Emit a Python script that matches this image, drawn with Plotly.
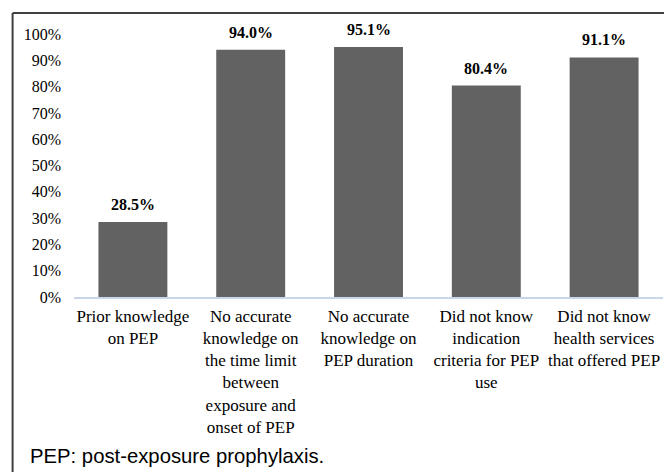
import plotly.graph_objects as go

categories = [
    "Prior knowledge<br>on PEP",
    "No accurate<br>knowledge on<br>the time limit<br>between<br>exposure and<br>onset of PEP",
    "No accurate<br>knowledge on<br>PEP duration",
    "Did not know<br>indication<br>criteria for PEP<br>use",
    "Did not know<br>health services<br>that offered PEP",
]
values = [28.5, 94.0, 95.1, 80.4, 91.1]
tick_vals = [0, 10, 20, 30, 40, 50, 60, 70, 80, 90, 100]
tick_text = [f"{v}%" for v in tick_vals]
footnote = "PEP: post-exposure prophylaxis."

serif = "Liberation Serif, Times New Roman, serif"

fig = go.Figure()
fig.add_trace(go.Bar(
    x=categories,
    y=values,
    marker=dict(color="#626262", line=dict(width=0)),
    hoverinfo="skip",
))

for c, v in zip(categories, values):
    fig.add_annotation(
        x=c, y=v, text=f"<b>{v:.1f}%</b>", showarrow=False,
        yanchor="bottom", yshift=7,
        font=dict(family=serif, size=16, color="#000000"),
    )

# page is offset by the 8px body margin
OFF = 8
W, H = 672, 472
ml, mr, mt = 73.5 - OFF, 16.5, 34 - OFF
plot_bottom = 297 - OFF
mb = H - plot_bottom
pw, ph = W - ml - mr, H - mt - mb

def px_to_paper_x(px):
    return (px - OFF - ml) / pw

def px_to_paper_y(py):
    return (plot_bottom - (py - OFF)) / ph

# outer frame
fig.add_shape(type="line", xref="paper", yref="paper",
              x0=px_to_paper_x(12), x1=px_to_paper_x(720),
              y0=px_to_paper_y(13), y1=px_to_paper_y(13),
              line=dict(color="#404040", width=2))
fig.add_shape(type="line", xref="paper", yref="paper",
              x0=px_to_paper_x(12), x1=px_to_paper_x(12),
              y0=px_to_paper_y(13), y1=px_to_paper_y(520),
              line=dict(color="#404040", width=2))

fig.add_annotation(
    xref="paper", yref="paper",
    x=px_to_paper_x(27), y=px_to_paper_y(456),
    xanchor="left", yanchor="middle", showarrow=False,
    text=footnote,
    font=dict(family="Liberation Sans, Arial, sans-serif", size=20.3, color="#000000"),
)

fig.update_layout(
    width=W, height=H,
    margin=dict(l=ml, r=mr, t=mt, b=mb, pad=0),
    paper_bgcolor="white", plot_bgcolor="white",
    bargap=0.415,
    showlegend=False,
    font=dict(family=serif, color="#000000"),
)
fig.update_xaxes(
    showline=True, linecolor="#c9d5e8", linewidth=1.5,
    showgrid=False, ticks="",
    tickangle=0, ticklabelstandoff=3,
    tickfont=dict(family=serif, size=17, color="#000000"),
)
fig.update_yaxes(
    range=[0, 100], tickvals=tick_vals, ticktext=tick_text,
    showgrid=False, showline=False, zeroline=False, ticks="",
    ticklabelstandoff=12,
    tickfont=dict(family=serif, size=16, color="#000000"),
)

fig.write_html("out.html")
